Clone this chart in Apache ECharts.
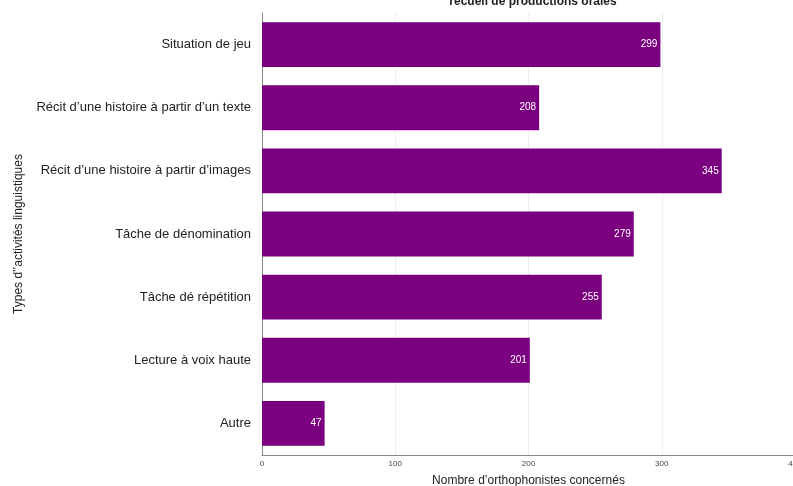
<!DOCTYPE html>
<html><head><meta charset="utf-8">
<script src="https://cdn.jsdelivr.net/npm/echarts@6/dist/echarts.min.js"></script>
<style>html,body{margin:0;padding:0;background:#fff}#c{width:793px;height:486px}</style>
</head><body><div id="c"></div>
<script>
const categories = ["Situation de jeu","Récit d’une histoire à partir d’un texte","Récit d’une histoire à partir d’images","Tâche de dénomination","Tâche dé répétition","Lecture à voix haute","Autre"];
const values = [299,208,345,279,255,201,47];
const xTicks = [0,100,200,300,400];
const chart = echarts.init(document.getElementById('c'));
chart.setOption({
  animation:false,
  textStyle:{fontFamily:'Liberation Sans, Arial, sans-serif'},
  title:{text:'recueil de productions orales',left:528,textAlign:'center',top:-9,textStyle:{fontSize:12,fontWeight:'bold',color:'#222',fontFamily:'Liberation Sans, Arial, sans-serif'}},
  grid:{left:262,right:-2,top:13,bottom:31,containLabel:false,outerBoundsMode:'none'},
  xAxis:{type:'value',min:xTicks[0],max:xTicks[xTicks.length-1],interval:100,
    name:'Nombre d’orthophonistes concernés',nameLocation:'middle',nameGap:20,
    nameTextStyle:{fontSize:12,color:'#222'},
    axisLine:{show:true,lineStyle:{color:'#888',width:1}},axisTick:{show:false},
    axisLabel:{fontSize:8,color:'#444',margin:5},
    splitLine:{show:true,lineStyle:{color:'#eeeeee',width:1}}},
  yAxis:{type:'category',data:categories,inverse:true,
    name:'Types d’’activités linguistiques',nameLocation:'middle',nameGap:237,nameRotate:90,
    nameTextStyle:{fontSize:12,color:'#222'},
    axisLine:{show:true,lineStyle:{color:'#888',width:1}},axisTick:{show:false},
    axisLabel:{fontSize:13,color:'#222',margin:11}},
  series:[{type:'bar',data:values,barCategoryGap:'29%',
    itemStyle:{color:'#7b0080'},
    label:{show:true,position:'insideRight',color:'#fff',fontSize:10,offset:[2,0]}}]
});
</script></body></html>
